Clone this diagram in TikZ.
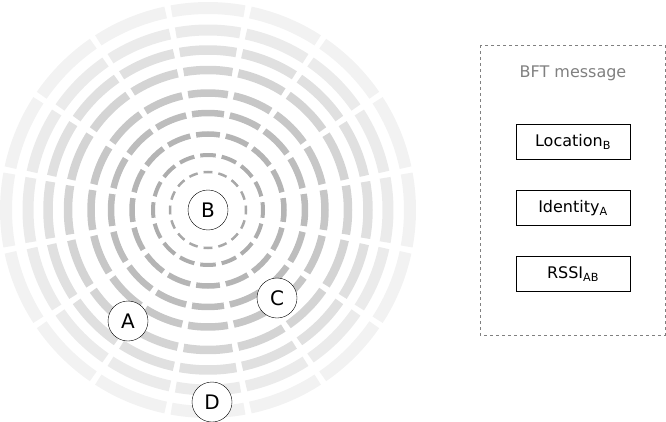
\documentclass[tikz,border=0pt]{standalone}
\usepackage{fontspec}
\setmainfont{DejaVu Sans}
\begin{document}
\begin{tikzpicture}[x=1pt,y=-1pt,
  station/.style={circle,draw,fill=white,minimum size=40pt,inner sep=0pt,font=\fontsize{20}{22}\selectfont},
  field/.style={draw,minimum width=114pt,minimum height=35pt,inner sep=0pt,font=\fontsize{16}{18}\selectfont}]
\useasboundingbox (0,0) rectangle (666,422);
\begin{scope}[shift={(208,210)},y=1pt]
\foreach \r/\w/\g in {38/2.5/34,55/4/32,76/5.5/29,97/6.5/26,117/7.5/22,140/8.5/17,160/9.5/12,180/11/8,202/12/5}{
  \pgfmathsetmacro{\ga}{6/\r*57.3}
  \foreach \k in {0,...,15}{
    \pgfmathsetmacro{\a}{\k*22.5-11.25+\ga/2}
    \pgfmathsetmacro{\b}{\k*22.5+11.25-\ga/2}
    \draw[line width=\w pt,color=black!\g] (\a:\r) arc[start angle=\a,end angle=\b,radius=\r];
  }
}
\end{scope}
\node[station] (B) at (208,210) {B};
\node[station] (A) at (128,321) {A};
\node[station] (C) at (277,298) {C};
\node[station] (D) at (212,402) {D};
\draw[dashed,gray,line width=0.8pt] (480,45) rectangle (665,335);
\node[gray,font=\fontsize{16}{18}\selectfont] (title) at (573,73) {BFT message};
\node[field] (loc) at (573,142) {Location\textsubscript{B}};
\node[field] (id) at (573,208) {Identity\textsubscript{A}};
\node[field] (rssi) at (573,274) {RSSI\textsubscript{AB}};
\end{tikzpicture}
\end{document}
